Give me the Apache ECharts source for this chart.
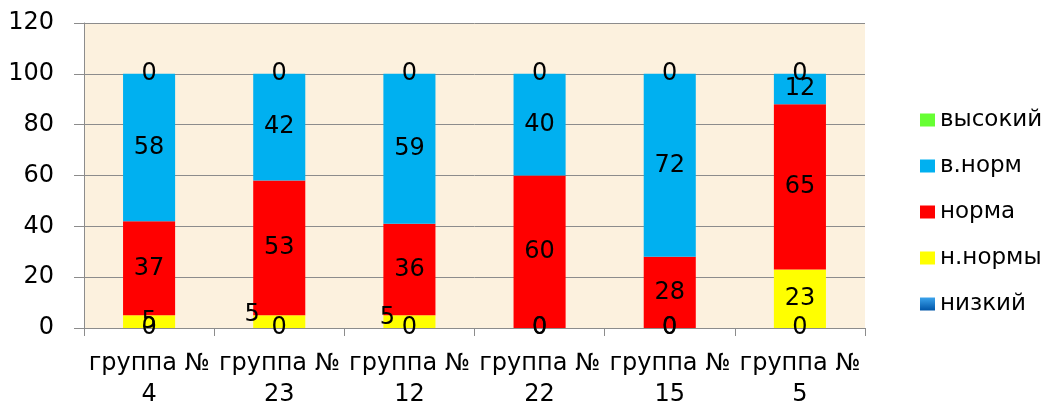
<!DOCTYPE html>
<html><head><meta charset="utf-8">
<script src="https://cdn.jsdelivr.net/npm/echarts@6/dist/echarts.min.js"></script>
<style>html,body{margin:0;padding:0;background:#fff}#c{width:1058px;height:401px}</style>
</head><body><div id="c"></div>
<script>
const categories = ['группа №\n4','группа №\n23','группа №\n12','группа №\n22','группа №\n15','группа №\n5'];
const nizkiy  = [0, 0, 0, 0, 0, 0];
const nNormy  = [5, 5, 5, 0, 0, 23];
const norma   = [37, 53, 36, 60, 28, 65];
const vNorm   = [58, 42, 59, 40, 72, 12];
const vysokiy = [0, 0, 0, 0, 0, 0];
const yTicks = [0, 20, 40, 60, 80, 100, 120];

// label nudges (layout only) for the н.нормы labels, as in the original
const nNormyLabelOffset = {1: [-27, -7], 2: [-22, -4]};

const FONT = 'DejaVu Sans';
const lbl = {show: true, position: 'inside', color: '#000', fontSize: 24, fontFamily: FONT};

function mk(name, values, color, extra) {
  return Object.assign({
    name, type: 'bar', stack: 'total', barWidth: '40%',
    data: values, itemStyle: {color}, label: lbl, emphasis: {disabled: true}
  }, extra || {});
}

const nNormyData = nNormy.map((v, i) => nNormyLabelOffset[i] ? {value: v, label: {offset: nNormyLabelOffset[i]}} : v);

const chart = echarts.init(document.getElementById('c'));
chart.setOption({
  animation: false,
  backgroundColor: '#fff',
  grid: {left: 84, right: 193, top: 23, bottom: 73, outerBoundsMode: 'none', containLabel: false,
         show: true, backgroundColor: '#FCF1DE', borderWidth: 0, borderColor: 'transparent'},
  legend: {
    orient: 'vertical', left: 915, top: 103, itemWidth: 15, itemHeight: 13, itemGap: 22,
    icon: 'rect',
    textStyle: {fontSize: 23, fontFamily: FONT, color: '#000', lineHeight: 24},
    data: ['высокий', 'в.норм', 'норма', 'н.нормы', 'низкий']
  },
  xAxis: {
    type: 'category', data: categories,
    axisLine: {lineStyle: {color: '#8c8c8c', width: 1}},
    axisTick: {show: true, length: 8, lineStyle: {color: '#8c8c8c'}},
    axisLabel: {fontSize: 24, fontFamily: FONT, color: '#000', lineHeight: 31, margin: 20, interval: 0}
  },
  yAxis: {
    type: 'value', min: yTicks[0], max: yTicks[yTicks.length - 1], interval: 20,
    axisLine: {show: true, lineStyle: {color: '#8c8c8c'}},
    axisTick: {show: true, length: 10, lineStyle: {color: '#8c8c8c'}},
    splitLine: {lineStyle: {color: '#8c8c8c', width: 1}},
    axisLabel: {fontSize: 24, fontFamily: FONT, color: '#000', margin: 30}
  },
  series: [
    mk('низкий', nizkiy, new echarts.graphic.LinearGradient(0, 0, 0, 1, [{offset: 0, color: '#3BA3EC'}, {offset: 1, color: '#0055A8'}])),
    mk('н.нормы', nNormyData, '#FFFF00'),
    mk('норма', norma, '#FF0000'),
    mk('в.норм', vNorm, '#00B0F0'),
    mk('высокий', vysokiy, '#66FF33')
  ]
});
</script></body></html>
